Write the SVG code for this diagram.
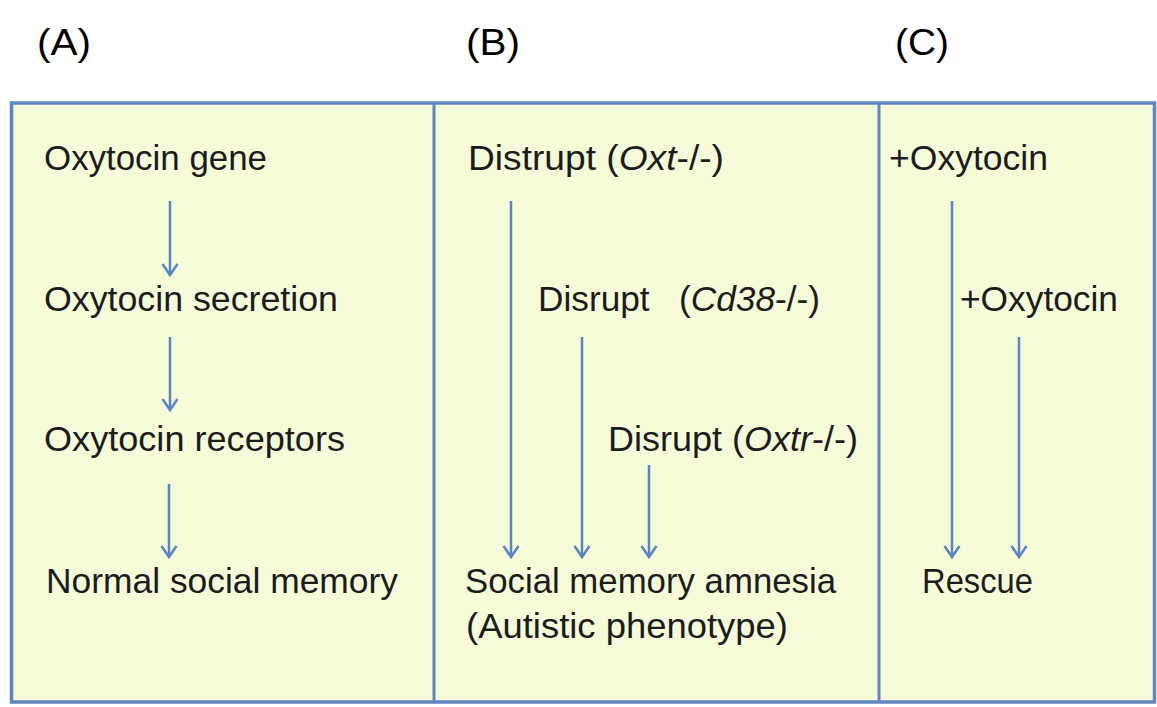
<svg xmlns="http://www.w3.org/2000/svg" width="1157" height="707" viewBox="0 0 1157 707">
<style>
.t{font-family:"Liberation Sans",Arial,sans-serif;font-size:35px;fill:#1c1c1c;}
.h{font-family:"Liberation Sans",Arial,sans-serif;font-size:36px;fill:#000;}
.i{font-style:italic;}
.c{stroke:#5b84c0;stroke-width:2.5;fill:none;marker-end:url(#ah);}
.b{stroke:#5f86bf;}
</style>
<defs>
<marker id="ah" markerWidth="20" markerHeight="20" refX="15" refY="10" viewBox="0 0 20 20" markerUnits="userSpaceOnUse" orient="auto">
<path d="M4,2.5 L15,10 L4,17.5" fill="none" stroke="#5b84c0" stroke-width="2.5"/>
</marker>
</defs>
<rect width="1157" height="707" fill="#ffffff"/>
<g id="titles">
<text class="h" x="37" y="55" textLength="54" lengthAdjust="spacingAndGlyphs">(A)</text>
<text class="h" x="466" y="55" textLength="54" lengthAdjust="spacingAndGlyphs">(B)</text>
<text class="h" x="895" y="55" textLength="54" lengthAdjust="spacingAndGlyphs">(C)</text>
</g>
<g id="panels">
<rect x="11.5" y="103" width="1143" height="599" fill="#f5fad9" class="b" stroke-width="3.5"/>
<line x1="434" y1="103" x2="434" y2="702" class="b" stroke-width="3"/>
<line x1="879" y1="103" x2="879" y2="702" class="b" stroke-width="3"/>
</g>
<g id="panelA">
<g id="a1"><text class="t" x="44" y="170" textLength="223" lengthAdjust="spacingAndGlyphs">Oxytocin gene</text></g>
<g id="a2"><text class="t" x="44" y="311" textLength="294" lengthAdjust="spacingAndGlyphs">Oxytocin secretion</text></g>
<g id="a3"><text class="t" x="44" y="451" textLength="301" lengthAdjust="spacingAndGlyphs">Oxytocin receptors</text></g>
<g id="a4"><text class="t" x="46" y="593" textLength="352" lengthAdjust="spacingAndGlyphs">Normal social memory</text></g>
</g>
<g id="panelB">
<g id="b1"><text class="t" x="468" y="170" textLength="256" lengthAdjust="spacingAndGlyphs">Distrupt (<tspan class="i">Oxt</tspan>-/-)</text></g>
<g id="b2"><text class="t" x="538" y="311" textLength="282" lengthAdjust="spacingAndGlyphs" xml:space="preserve">Disrupt   (<tspan class="i">Cd38</tspan>-/-)</text></g>
<g id="b3"><text class="t" x="608" y="451" textLength="250" lengthAdjust="spacingAndGlyphs">Disrupt (<tspan class="i">Oxtr</tspan>-/-)</text></g>
<g id="b4"><text class="t" x="465" y="593" textLength="371" lengthAdjust="spacingAndGlyphs">Social memory amnesia</text>
<text class="t" x="466" y="638" textLength="322" lengthAdjust="spacingAndGlyphs">(Autistic phenotype)</text></g>
</g>
<g id="panelC">
<g id="c1"><text class="t" x="889" y="170" textLength="159" lengthAdjust="spacingAndGlyphs">+Oxytocin</text></g>
<g id="c2"><text class="t" x="960" y="311" textLength="158" lengthAdjust="spacingAndGlyphs">+Oxytocin</text></g>
<g id="c3"><text class="t" x="922" y="593" textLength="111" lengthAdjust="spacingAndGlyphs">Rescue</text></g>
</g>
<g id="connectors">
<line class="c" x1="170" y1="201" x2="170" y2="275"/>
<line class="c" x1="170" y1="337" x2="170" y2="410"/>
<line class="c" x1="169" y1="484" x2="169" y2="557"/>
<line class="c" x1="511" y1="201" x2="511" y2="557"/>
<line class="c" x1="582" y1="337" x2="582" y2="557"/>
<line class="c" x1="649" y1="465" x2="649" y2="557"/>
<line class="c" x1="952" y1="201" x2="952" y2="557"/>
<line class="c" x1="1019" y1="337" x2="1019" y2="557"/>
</g>
</svg>
